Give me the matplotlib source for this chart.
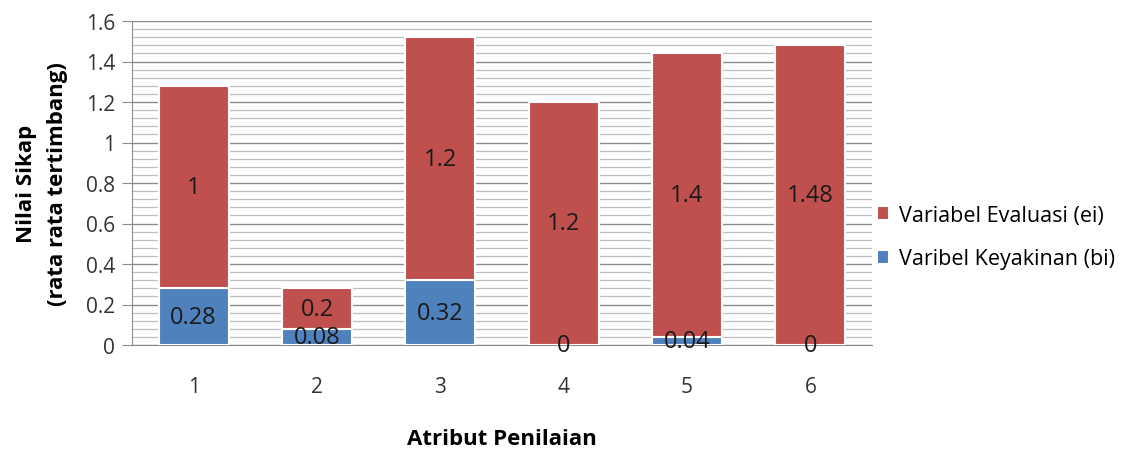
import numpy as np
import matplotlib.pyplot as plt
from matplotlib.ticker import MultipleLocator

categories = ["1", "2", "3", "4", "5", "6"]
keyakinan = [0.28, 0.08, 0.32, 0, 0.04, 0]
evaluasi = [1, 0.2, 1.2, 1.2, 1.4, 1.48]
keyakinan_lbl = ["0.28", "0.08", "0.32", "0", "0.04", "0"]
evaluasi_lbl = ["1", "0.2", "1.2", "1.2", "1.4", "1.48"]

blue = "#4F81BD"
red = "#C0504D"

plt.rcParams['font.family'] = ['Open Sans', 'DejaVu Sans']

fig = plt.figure(figsize=(11.37, 4.52), dpi=100)
ax = fig.add_axes([132 / 1137, 1 - 346 / 452, 740 / 1137, 324 / 452])

x = np.arange(len(categories))
w = 0.57
b1 = ax.bar(x, keyakinan, w, color=blue, edgecolor="white", linewidth=1.5,
            label="Varibel Keyakinan (bi)", zorder=3)
b2 = ax.bar(x, evaluasi, w, bottom=keyakinan, color=red, edgecolor="white",
            linewidth=1.5, label="Variabel Evaluasi (ei)", zorder=3)

for i in range(len(categories)):
    ax.text(x[i], keyakinan[i] / 2, keyakinan_lbl[i], ha="center", va="center",
            fontsize=17, color="#1a1a1a", zorder=4)
    ax.text(x[i], keyakinan[i] + evaluasi[i] / 2, evaluasi_lbl[i], ha="center",
            va="center", fontsize=17, color="#1a1a1a", zorder=4)

ax.set_xlim(-0.5, len(categories) - 0.5)
ax.set_ylim(0, 1.6)
ax.yaxis.set_minor_locator(MultipleLocator(0.04))
ax.set_yticks([0, 0.2, 0.4, 0.6, 0.8, 1, 1.2, 1.4, 1.6])
ax.set_yticklabels(["0", "0.2", "0.4", "0.6", "0.8", "1", "1.2", "1.4", "1.6"])
ax.set_xticks(x)
ax.set_xticklabels(categories)
ax.grid(axis="y", which="major", color="#8c8c8c", linewidth=1, zorder=0)
ax.grid(axis="y", which="minor", color="#bdbdbd", linewidth=0.9, zorder=0)
ax.tick_params(axis="y", which="major", length=7, color="#8c8c8c", labelsize=15,
               labelcolor="#333333", pad=5)
ax.tick_params(axis="y", which="minor", length=0)
ax.tick_params(axis="x", length=0, labelsize=15, labelcolor="#333333", pad=22)
for s in ["top", "right"]:
    ax.spines[s].set_visible(False)
ax.spines["left"].set_color("#8c8c8c")
ax.spines["bottom"].set_color("#8c8c8c")

ax.set_xlabel("Atribut Penilaian", fontsize=16, fontweight="bold", va="center")
ax.xaxis.set_label_coords(0.5, -(440 - 346) / 324)
ax.set_ylabel("Nilai Sikap\n(rata rata tertimbang)", fontsize=16, fontweight="bold",
              va="center", linespacing=1.6)
ax.yaxis.set_label_coords(-(132 - 42) / 740, 0.5)

handles = [b2, b1]
ax.legend(handles, [h.get_label() for h in handles], loc="center left",
          bbox_to_anchor=(0.98, (346 - 238) / 324), frameon=False, fontsize=15.5,
          handlelength=0.6, handleheight=0.6, handletextpad=0.45, labelspacing=1.05)

fig.savefig("out.png", dpi=100)
